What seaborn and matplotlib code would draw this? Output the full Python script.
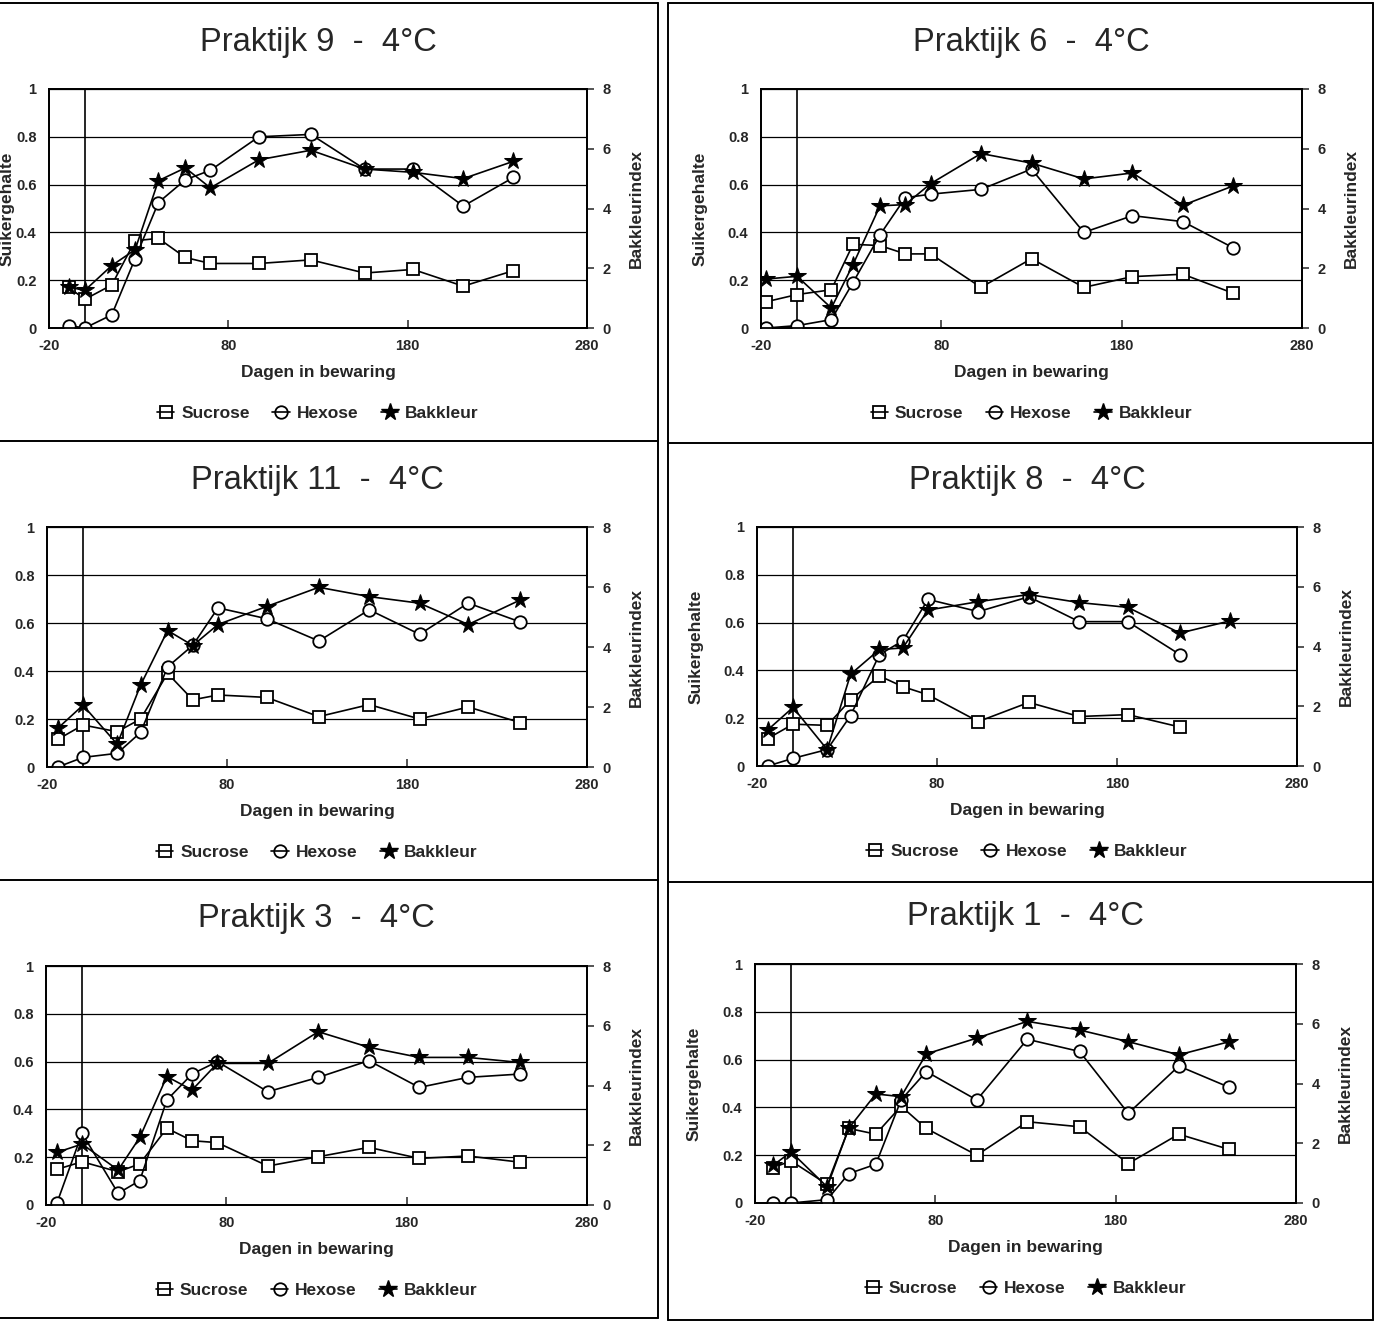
import numpy as np
import pandas as pd
import matplotlib
matplotlib.use("Agg")
import matplotlib.pyplot as plt
from matplotlib.lines import Line2D
import seaborn as sns

sns.set_style("white")
plt.rcParams["font.family"] = ["Liberation Sans", "DejaVu Sans"]
plt.rcParams["axes.unicode_minus"] = False

# ---- measurements per farm (dagen in bewaring, sugar content, baking colour index) ----
days_p9 = [-9, 0, 15, 28, 41, 56, 70, 97, 126, 156, 183, 211, 239]
sucrose_p9 = [0.17, 0.12, 0.18, 0.365, 0.375, 0.295, 0.27, 0.27, 0.285, 0.23, 0.245, 0.175, 0.24]
hexose_p9 = [0.01, 0.0, 0.055, 0.29, 0.525, 0.62, 0.66, 0.80, 0.81, 0.665, 0.665, 0.51, 0.63]
bakkleur_p9 = [1.37, 1.26, 2.09, 2.62, 4.93, 5.36, 4.69, 5.63, 5.95, 5.32, 5.21, 5.0, 5.58]

days_p6 = [-17, 0, 19, 31, 46, 60, 74, 102, 130, 159, 186, 214, 242]
sucrose_p6 = [0.11, 0.14, 0.16, 0.35, 0.345, 0.31, 0.31, 0.17, 0.29, 0.17, 0.215, 0.225, 0.145]
hexose_p6 = [0.0, 0.01, 0.035, 0.19, 0.39, 0.545, 0.56, 0.58, 0.665, 0.40, 0.47, 0.445, 0.335]
bakkleur_p6 = [1.64, 1.73, 0.67, 2.12, 4.09, 4.13, 4.83, 5.84, 5.52, 4.99, 5.19, 4.11, 4.76]

days_p11 = [-14, 0, 19, 32, 47, 61, 75, 102, 131, 159, 187, 214, 243]
sucrose_p11 = [0.115, 0.175, 0.147, 0.20, 0.39, 0.28, 0.30, 0.29, 0.21, 0.26, 0.20, 0.25, 0.185]
hexose_p11 = [0.0, 0.04, 0.057, 0.144, 0.417, 0.507, 0.663, 0.618, 0.525, 0.655, 0.553, 0.683, 0.604]
bakkleur_p11 = [1.29, 2.06, 0.76, 2.73, 4.55, 4.05, 4.75, 5.35, 5.99, 5.68, 5.46, 4.75, 5.57]

days_p8 = [-14, 0, 19, 32, 48, 61, 75, 103, 131, 159, 186, 215, 243]
sucrose_p8 = [0.115, 0.175, 0.17, 0.277, 0.377, 0.332, 0.298, 0.186, 0.266, 0.207, 0.215, 0.163, np.nan]
hexose_p8 = [0.0, 0.032, 0.069, 0.211, 0.466, 0.524, 0.697, 0.646, 0.708, 0.604, 0.604, 0.466, np.nan]
bakkleur_p8 = [1.21, 1.96, 0.55, 3.07, 3.9, 3.95, 5.22, 5.5, 5.74, 5.47, 5.31, 4.45, 4.86]

days_p3 = [-14, 0, 20, 32, 47, 61, 75, 103, 131, 159, 187, 214, 243]
sucrose_p3 = [0.149, 0.181, 0.139, 0.172, 0.321, 0.269, 0.261, 0.163, 0.202, 0.241, 0.195, 0.205, 0.179]
hexose_p3 = [0.007, 0.30, 0.049, 0.102, 0.439, 0.548, 0.60, 0.474, 0.534, 0.604, 0.492, 0.534, 0.548]
bakkleur_p3 = [1.76, 2.04, 1.17, 2.26, 4.30, 3.85, 4.74, 4.74, 5.80, 5.28, 4.94, 4.94, 4.77]

days_p1 = [-10, 0, 20, 32, 47, 61, 75, 103, 131, 160, 187, 215, 243]
sucrose_p1 = [0.148, 0.176, 0.078, 0.312, 0.288, 0.405, 0.312, 0.20, 0.34, 0.319, 0.165, 0.288, 0.224]
hexose_p1 = [0.0, 0.0, 0.014, 0.123, 0.162, 0.431, 0.55, 0.431, 0.685, 0.634, 0.375, 0.573, 0.484]
bakkleur_p1 = [1.26, 1.71, 0.54, 2.5, 3.65, 3.56, 4.99, 5.52, 6.08, 5.79, 5.40, 4.96, 5.40]

titles = ["Praktijk 9  -  4°C", "Praktijk 6  -  4°C", "Praktijk 11  -  4°C",
          "Praktijk 8  -  4°C", "Praktijk 3  -  4°C", "Praktijk 1  -  4°C"]
series_labels = ["Sucrose", "Hexose", "Bakkleur"]
x_ticks = [-20, 80, 180, 280]
left_ticks = [0, 0.2, 0.4, 0.6, 0.8, 1]
left_ticklabels = ["0", "0.2", "0.4", "0.6", "0.8", "1"]
right_ticks = [0, 2, 4, 6, 8]

panel_data = [
    (days_p9, sucrose_p9, hexose_p9, bakkleur_p9),
    (days_p6, sucrose_p6, hexose_p6, bakkleur_p6),
    (days_p11, sucrose_p11, hexose_p11, bakkleur_p11),
    (days_p8, sucrose_p8, hexose_p8, bakkleur_p8),
    (days_p3, sucrose_p3, hexose_p3, bakkleur_p3),
    (days_p1, sucrose_p1, hexose_p1, bakkleur_p1),
]

# plot-area boxes in pixels: left, top, right, bottom
boxes = [
    (49, 89, 587, 328), (761, 89, 1302, 328),
    (47, 527, 587, 767), (757, 527, 1297, 766),
    (46, 966, 587, 1205), (755, 964, 1296, 1203),
]
# horizontal position of the left axis title, in pixels from the spine
ylabel_offsets = [-34, -53, None, -53, None, -53]

W, H = 1376, 1325
fig = plt.figure(figsize=(W / 100, H / 100), dpi=100)
fig.patch.set_facecolor("white")

LW = 1.2
MS = 9

for (days, suc, hexo, bak), title, (l, t, r, b), yoff in zip(panel_data, titles, boxes,
                                                              ylabel_offsets):
    ax = fig.add_axes([l / W, 1 - b / H, (r - l) / W, (b - t) / H])
    ah = b - t

    df = pd.DataFrame({"dag": days, "Sucrose": suc, "Hexose": hexo, "Bakkleur": bak})

    ax.set_xlim(-20, 280)
    ax.set_ylim(0, 1)
    ax.set_yticks(left_ticks)
    ax.set_yticklabels(left_ticklabels)
    ax.set_xticks(x_ticks)
    ax.yaxis.grid(True, color="black", lw=0.9)
    ax.xaxis.grid(False)
    ax.axvline(0, color="black", lw=LW, zorder=1.5)

    sns.lineplot(data=df.dropna(subset=["Sucrose"]), x="dag", y="Sucrose", ax=ax,
                 color="black", lw=LW, marker="s", markersize=MS,
                 markerfacecolor="white", markeredgecolor="black", markeredgewidth=1.3,
                 legend=False, zorder=3)
    sns.lineplot(data=df.dropna(subset=["Hexose"]), x="dag", y="Hexose", ax=ax,
                 color="black", lw=LW, marker="o", markersize=MS,
                 markerfacecolor="white", markeredgecolor="black", markeredgewidth=1.3,
                 legend=False, zorder=3)

    ax2 = ax.twinx()
    sns.lineplot(data=df, x="dag", y="Bakkleur", ax=ax2, color="black", lw=LW,
                 marker="*", markersize=13, markerfacecolor="black",
                 markeredgecolor="black", legend=False, zorder=4)
    ax2.set_ylim(0, 8)
    ax2.set_xlim(-20, 280)
    ax2.set_yticks(right_ticks)

    for a in (ax, ax2):
        for s in a.spines.values():
            s.set_visible(True)
            s.set_color("black")
            s.set_linewidth(1.3)

    ax.tick_params(axis="x", direction="in", length=6, width=1.1, pad=8,
                   labelsize=10.5, bottom=True, top=False)
    ax.tick_params(axis="y", length=0, pad=9, labelsize=10.5, left=True)
    ax2.tick_params(axis="y", direction="out", length=5, width=1.1, pad=6,
                    labelsize=10.5, right=True)
    for lab in ax.get_xticklabels() + ax.get_yticklabels() + ax2.get_yticklabels():
        lab.set_fontweight("bold")

    ax.set_xlabel("Dagen in bewaring", fontsize=12.5, fontweight="bold")
    ax.xaxis.set_label_coords(0.5, -37 / ah)
    if yoff is not None:
        ax.set_ylabel("Suikergehalte", fontsize=12.5, fontweight="bold")
        ax.yaxis.set_label_coords(yoff / (r - l), 0.5)
    else:
        ax.set_ylabel("")
    ax2.set_ylabel("Bakkleurindex", fontsize=12.5, fontweight="bold", rotation=90)
    ax2.yaxis.set_label_coords(1 + 42 / (r - l), 0.5)

    ax.text(0.5, 1 + 47 / ah, title, transform=ax.transAxes, ha="center", va="center",
            fontsize=23.5)

    handles = [
        Line2D([], [], color="black", lw=LW, marker="s", markersize=MS,
               markerfacecolor="none", markeredgewidth=1.3),
        Line2D([], [], color="black", lw=LW, marker="o", markersize=MS,
               markerfacecolor="none", markeredgewidth=1.3),
        Line2D([], [], color="black", lw=LW, marker="*", markersize=13,
               markerfacecolor="black"),
    ]
    leg = ax.legend(handles, series_labels, loc="center", bbox_to_anchor=(0.5, -85 / ah),
                    ncol=3, frameon=False, fontsize=12.5, handlelength=1.0,
                    handletextpad=0.4, columnspacing=1.3)
    for txt in leg.get_texts():
        txt.set_fontweight("bold")

# panel frames
def hline(y, x0, x1):
    fig.add_artist(Line2D([x0 / W, x1 / W], [1 - y / H, 1 - y / H],
                          transform=fig.transFigure, color="black", lw=1.4))

def vline(x, y0, y1):
    fig.add_artist(Line2D([x / W, x / W], [1 - y0 / H, 1 - y1 / H],
                          transform=fig.transFigure, color="black", lw=1.4))

for y in (3, 441, 880, 1318):
    hline(y, 0, 658)
vline(658, 3, 1318)
for y in (3, 443, 882, 1320):
    hline(y, 668, 1373)
vline(668, 3, 1320)
vline(1373, 3, 1320)

fig.savefig("out.png", dpi=100, facecolor="white")
